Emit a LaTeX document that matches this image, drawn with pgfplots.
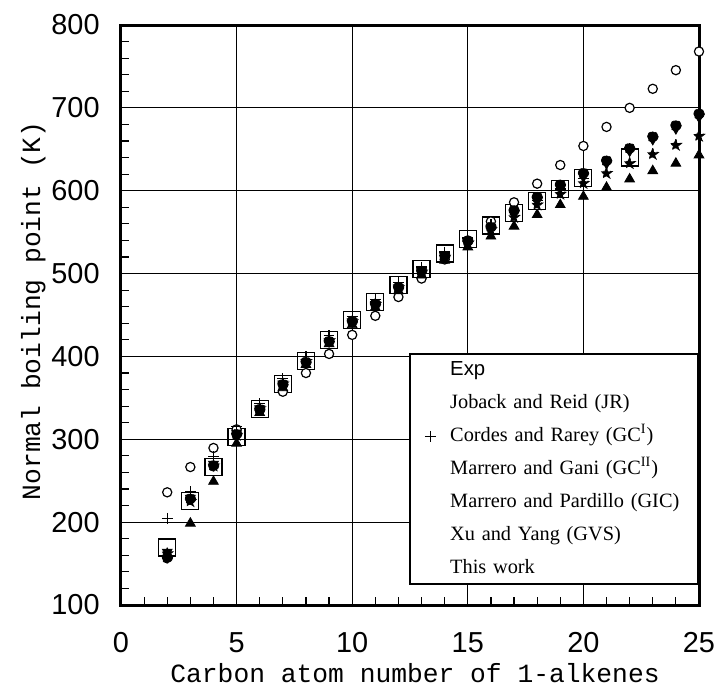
\documentclass[border=0pt]{standalone}
\usepackage{fontspec}
\setmainfont{Liberation Serif}
\setsansfont{Liberation Sans}
\setmonofont{Liberation Mono}
\usepackage{pgfplots}
\pgfplotsset{compat=1.18}
\usetikzlibrary{plotmarks}

\pgfdeclareplotmark{fstar}{%
  \pgfpathmoveto{\pgfpointpolar{90}{\pgfplotmarksize}}%
  \pgfpathlineto{\pgfpointpolar{126}{0.42\pgfplotmarksize}}%
  \pgfpathlineto{\pgfpointpolar{162}{\pgfplotmarksize}}%
  \pgfpathlineto{\pgfpointpolar{198}{0.42\pgfplotmarksize}}%
  \pgfpathlineto{\pgfpointpolar{234}{\pgfplotmarksize}}%
  \pgfpathlineto{\pgfpointpolar{270}{0.42\pgfplotmarksize}}%
  \pgfpathlineto{\pgfpointpolar{306}{\pgfplotmarksize}}%
  \pgfpathlineto{\pgfpointpolar{342}{0.42\pgfplotmarksize}}%
  \pgfpathlineto{\pgfpointpolar{18}{\pgfplotmarksize}}%
  \pgfpathlineto{\pgfpointpolar{54}{0.42\pgfplotmarksize}}%
  \pgfpathclose
  \pgfusepathqfillstroke}

\pgfplotsset{
  noimg/.style={legend image code/.code={\path[draw=none,fill=none] (0bp,-2bp) rectangle (20bp,2bp);}},
  plusimg/.style={legend image code/.code={\path[draw=none,fill=none] (0bp,-2bp) rectangle (20bp,2bp); \draw[##1] plot coordinates {(10bp,0bp)};}},
}

\begin{document}
\begin{tikzpicture}
\path[use as bounding box] (-60.5bp,-46bp) rectangle (299.5bp,302.5bp);
\begin{axis}[
  at={(0,0)}, anchor=south west,
  scale only axis, width=289bp, height=290bp,
  xmin=0, xmax=25, ymin=100, ymax=800,
  xtick={0,5,...,25}, ytick={100,200,...,800},
  minor x tick num=4, minor y tick num=4,
  tick pos=left, tick align=inside,
  major tick length=4.5bp, minor tick length=4bp,
  every tick/.style={black, line width=0.6bp},
  grid=major,
  major grid style={black, line width=0.6bp},
  axis line style={black, line width=1.5bp},
  /pgf/number format/assume math mode=true,
  tick label style={font=\sffamily\fontsize{14.5}{16}\selectfont, inner sep=0pt},
  xticklabel shift=13.5bp,
  yticklabel shift=10.5bp,
  xlabel={Carbon atom number of 1-alkenes},
  ylabel={Normal boiling point (K)},
  label style={font=\ttfamily\fontsize{13.2}{15}\selectfont},
  xlabel style={at={(axis description cs:0.5087,-0.1328)}, anchor=base},
  ylabel style={at={(axis description cs:-0.1401,0.507)}, anchor=base, rotate=0},
  legend cell align=left,
  legend style={
    at={(1,0.0345)}, anchor=south east,
    draw=black, line width=0.8bp, fill=white,
    inner xsep=0pt, inner ysep=3bp,
    row sep=6.5bp, column sep=0pt,
    font=\rmfamily\fontsize{10.2}{12}\selectfont,
    nodes={inner sep=0pt, text height=7.5bp, text depth=2.5bp},
    /tikz/every even column/.append style={text width=124bp},
  },
  only marks,
]
% Exp
\addplot+[noimg, black, mark=square, mark size=4.25bp, mark options={line width=0.6bp, fill=none}] coordinates {
(2,169.4)(3,225.4)(4,266.9)(5,303.1)(6,336.6)(7,366.8)(8,394.4)(9,420.0)(10,443.7)
(11,465.8)(12,486.5)(13,505.9)(14,524.3)(15,541.5)(16,558.0)(17,573.3)(18,588.0)
(19,602.0)(20,615.5)(22,640.0)};
\addlegendentry{\sffamily Exp}
% Joback and Reid
\addplot+[noimg, black, mark=*, mark size=2.3bp, mark options={fill=white, line width=0.6bp}] coordinates {
(2,236)(3,266.5)(4,289.5)(5,312)(6,335)(7,357.4)(8,380)(9,403)(10,426)(11,449)
(12,471.7)(13,494)(14,517)(15,540)(16,563)(17,586)(18,608.5)(19,631)(20,654)
(21,677)(22,700)(23,723)(24,745.5)(25,768)};
\addlegendentry{Joback and Reid (JR)}
% Cordes and Rarey
\addplot+[plusimg, black, mark=+, mark size=2.7bp, mark options={line width=0.6bp}] coordinates {
(2,204.6)(3,236.7)(4,279)(5,315)(6,343)(7,373)(8,400)(9,425)(10,448)(11,469)
(12,489)(13,508)(14,526)(15,543)(16,559)(17,574)(18,588)(19,602)(20,615)};
\addlegendentry{Cordes and Rarey (GC\textsuperscript{I})}
% Marrero and Gani
\addplot+[noimg, black, mark=triangle*, mark size=2.8bp, mark options={rotate=180, fill=black}] coordinates {
(2,164)(3,229)(4,270)(5,307)(6,337)(7,367)(8,393)(9,418)(10,442)(11,463)
(12,483)(13,503)(14,521)(15,538)(16,555)(17,572)(18,588)(19,603)(20,617)
(21,633)(22,648)(23,662)(24,675)(25,689)};
\addlegendentry{Marrero and Gani (GC\textsuperscript{II})}
% Marrero and Pardillo
\addplot+[noimg, black, mark=triangle*, mark size=2.8bp, mark options={fill=black}] coordinates {
(3,198.6)(4,249)(5,295)(6,332)(7,362)(8,390)(9,415)(10,438)(11,459)(12,479)
(13,498)(14,516)(15,532)(16,545)(17,557)(18,571)(19,583)(20,593)(21,604)
(22,614)(23,624)(24,633)(25,643)};
\addlegendentry{Marrero and Pardillo (GIC)}
% Xu and Yang
\addplot+[noimg, black, mark=fstar, mark size=3bp, mark options={fill=black}] coordinates {
(2,162)(3,225)(4,268)(5,305)(6,337)(7,367)(8,394)(9,419)(10,442)(11,463)
(12,483)(13,502)(14,520)(15,537)(16,553)(17,568)(18,583)(19,596)(20,609)
(21,621)(22,633)(23,644)(24,655)(25,666)};
\addlegendentry{Xu and Yang (GVS)}
% This work
\addplot+[noimg, black, mark=*, mark size=2.7bp, mark options={fill=black}] coordinates {
(2,157)(3,228)(4,268)(5,306)(6,336)(7,366)(8,393)(9,418)(10,442)(11,463)
(12,483)(13,503)(14,521)(15,539)(16,556)(17,576)(18,592)(19,607)(20,621)
(21,636)(22,651)(23,665)(24,678.5)(25,692.5)};
\addlegendentry{This work}
\end{axis}
\end{tikzpicture}
\end{document}
